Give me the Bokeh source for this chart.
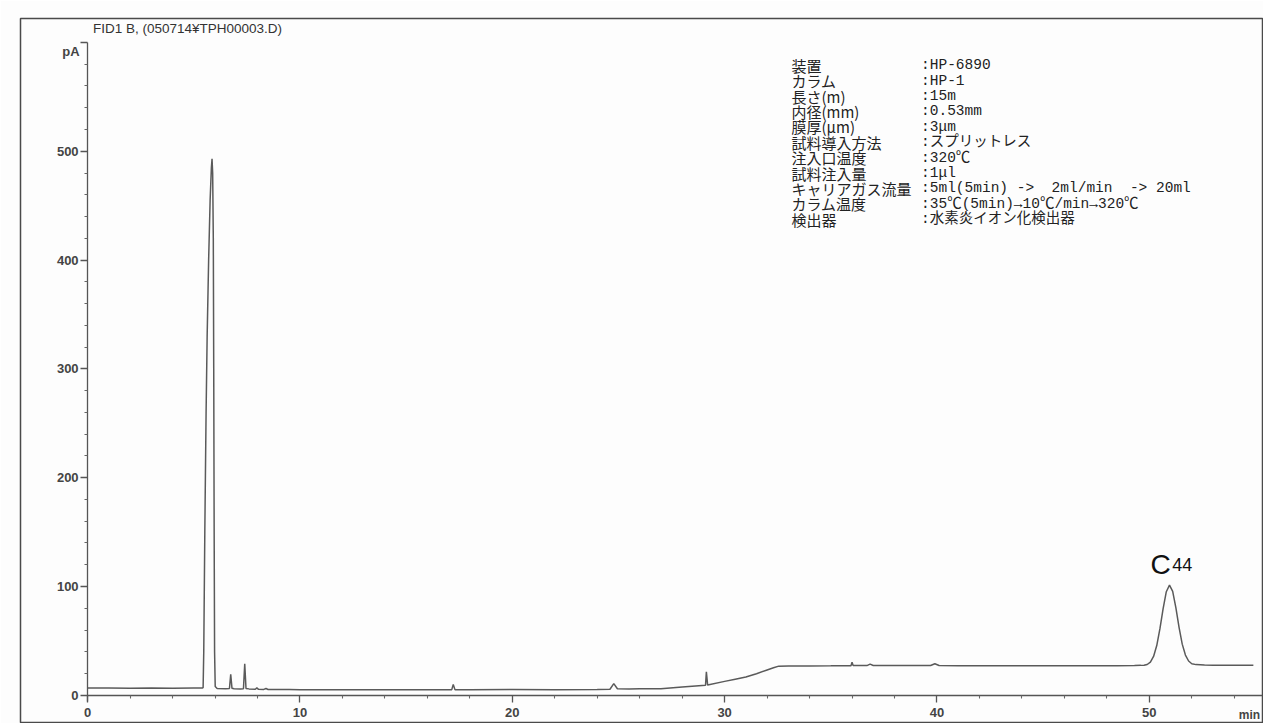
from bokeh.plotting import figure
from bokeh.models import Range1d, FixedTicker
from bokeh.core.properties import value
from bokeh.embed import file_html
from bokeh.resources import INLINE

# ---------------- data ----------------
time_min = [0.0, 1.0, 2.0, 3.0, 4.0, 5.0, 5.40, 5.44, 5.47, 5.52, 5.58, 5.63, 5.70, 5.77, 5.83, 5.86,
            5.89, 5.92, 5.94, 5.96, 5.98, 6.01, 6.10, 6.5, 6.68, 6.74, 6.80, 6.9, 7.2, 7.34, 7.40,
            7.46, 7.6, 7.9, 7.97, 8.05, 8.3, 8.4, 8.5, 9.0, 9.5, 10.0, 12.0, 14.0, 16.0, 17.15,
            17.22, 17.3, 18.0, 20.0, 22.0, 24.0, 24.6, 24.78, 24.95, 25.5, 26.0, 27.0, 28.0,
            29.1, 29.14, 29.2, 30.0, 30.5, 31.0, 31.5, 32.0, 32.3, 32.55, 33.0, 34.0, 35.0,
            35.95, 36.0, 36.05, 36.7, 36.85, 37.0, 38.0, 39.7, 39.9, 40.1, 41.0, 43.0, 45.0,
            47.0, 48.5, 49.3, 49.6, 49.75, 49.90, 50.05, 50.20, 50.35, 50.50, 50.65, 50.80,
            50.95, 51.10, 51.25, 51.40, 51.55, 51.70, 51.85, 52.0, 52.2, 52.6, 53.0, 54.0, 54.9]
signal_pa = [6.6, 6.6, 6.5, 6.6, 6.5, 6.6, 6.6, 7.0, 40.0, 150.0, 260.0, 330.0, 400.0, 455.0, 485.0, 493.0,
             480.0, 420.0, 300.0, 150.0, 40.0, 8.0, 6.2, 6.0, 6.3, 19.3, 6.4, 6.0, 5.8, 6.0, 29.0,
             6.2, 5.9, 5.6, 6.8, 5.5, 5.4, 6.2, 5.3, 5.3, 5.4, 5.2, 5.2, 5.2, 5.2, 5.2,
             10.0, 5.2, 5.2, 5.3, 5.2, 5.3, 5.6, 10.7, 6.0, 5.9, 6.0, 6.1, 7.6,
             9.2, 21.5, 9.4, 12.8, 14.8, 16.8, 19.8, 23.3, 25.3, 26.8, 27.0, 27.0, 27.1,
             27.2, 30.5, 27.3, 27.3, 28.7, 27.4, 27.3, 27.4, 29.0, 27.4, 27.2, 27.2, 27.1,
             27.1, 27.2, 27.4, 27.5, 27.6, 28.3, 30.5, 35.7, 45.7, 61.2, 79.6, 95.2,
             101.3, 95.5, 80.5, 62.5, 47.0, 37.0, 31.5, 29.0, 28.2, 27.8, 27.7, 27.6, 27.5]

x_major_ticks = [0, 10, 20, 30, 40, 50]
x_minor_ticks = [2, 4, 6, 8, 12, 14, 16, 18, 22, 24, 26, 28, 32, 34, 36, 38, 42, 44, 46, 48, 52, 54]
y_major_ticks = [0, 100, 200, 300, 400, 500, 600]
y_minor_ticks = [20, 40, 60, 80, 120, 140, 160, 180, 220, 240, 260, 280, 320, 340, 360, 380,
                 420, 440, 460, 480, 520, 540, 560, 580]

info_labels = ["装置", "カラム", "長さ(m)", "内径(mm)", "膜厚(μm)", "試料導入方法", "注入口温度",
               "試料注入量", "キャリアガス流量", "カラム温度", "検出器"]
info_values = [":HP-6890", ":HP-1", ":15m", ":0.53mm", ":3μm", ":スプリットレス", ":320℃",
               ":1μl", ":5ml(5min) ->\u00a0\u00a02ml/min\u00a0\u00a0-> 20ml",
               ":35℃(5min)→10℃/min→320℃", ":水素炎イオン化検出器"]

title_text = "FID1 B, (050714¥TPH00003.D)"
y_unit = "pA"
x_unit = "min"
peak_label = "C"
peak_sub = "44"
peak_time = 50.95
peak_height = 101.3

# ---------------- figure ----------------
p = figure(width=1263, height=723, output_backend="svg", toolbar_location=None,
           x_range=Range1d(-3.16, 55.33), y_range=Range1d(-25.0, 622.0),
           min_border_left=20, min_border_right=1, min_border_top=18, min_border_bottom=1)
p.background_fill_color = "#fdfdfd"
p.border_fill_color = "#fdfdfd"
p.outline_line_color = "#4a4a4a"
p.outline_line_width = 1.5
p.xgrid.visible = False
p.ygrid.visible = False

for ax in (p.xaxis[0], p.yaxis[0]):
    ax.fixed_location = 0
    ax.axis_line_color = "#555555"
    ax.axis_line_width = 1.3
    ax.major_tick_line_color = "#555555"
    ax.major_tick_line_width = 1.3
    ax.minor_tick_line_color = "#666666"
    ax.minor_tick_line_width = 1.1
    ax.major_tick_in = 0
    ax.major_tick_out = 7
    ax.minor_tick_in = 0
    ax.minor_tick_out = 3
    ax.major_label_text_font = "Liberation Sans"
    ax.major_label_text_font_size = "13px"
    ax.major_label_text_font_style = "bold"
    ax.major_label_text_color = "#444444"

p.xaxis.ticker = FixedTicker(ticks=x_major_ticks, minor_ticks=x_minor_ticks)
p.yaxis.ticker = FixedTicker(ticks=y_major_ticks, minor_ticks=y_minor_ticks)
p.xaxis.bounds = (0, 55.33)
p.yaxis.bounds = (-6, 600)
p.xaxis.major_label_standoff = 6
p.yaxis.major_label_standoff = 2
p.yaxis.major_label_overrides = {600: ""}

p.line(time_min, signal_pa, line_color="#5a5a5a", line_width=1.5)

# texts
p.text(x=[0.25], y=[613], text=[title_text], text_font=value("Liberation Sans"),
       text_font_size="13.5px", text_color="#333333", text_baseline="middle", text_align="left")
p.text(x=[-0.38], y=[592], text=[y_unit], text_font=value("Liberation Sans"),
       text_font_size="13px", text_font_style="bold", text_color="#444444",
       text_baseline="middle", text_align="right")
p.text(x=[55.22], y=[-18.4], text=[x_unit], text_font=value("Liberation Sans"),
       text_font_size="12px", text_font_style="bold", text_color="#444444",
       text_baseline="middle", text_align="right")

n = len(info_labels)
row_y = [579 - i * 14.15 for i in range(n)]
p.text(x=[33.15] * n, y=row_y, text=info_labels, text_font=value("Noto Sans CJK JP"),
       text_font_size="15px", text_color="#222222", text_baseline="middle", text_align="left")
p.text(x=[39.25] * n, y=row_y, text=info_values,
       text_font=value("Liberation Mono, Noto Sans CJK JP"),
       text_font_size="14.5px", text_color="#222222", text_baseline="middle", text_align="left")

p.text(x=[peak_time - 0.9], y=[peak_height + 18.5], text=[peak_label],
       text_font=value("Liberation Sans"), text_font_size="28px", text_color="#111111",
       text_baseline="alphabetic", text_align="left")
p.text(x=[peak_time + 0.13], y=[peak_height + 18.5], text=[peak_sub],
       text_font=value("Liberation Sans"), text_font_size="18px", text_color="#111111",
       text_baseline="alphabetic", text_align="left")

open("out.html", "w").write(file_html(p, INLINE))
